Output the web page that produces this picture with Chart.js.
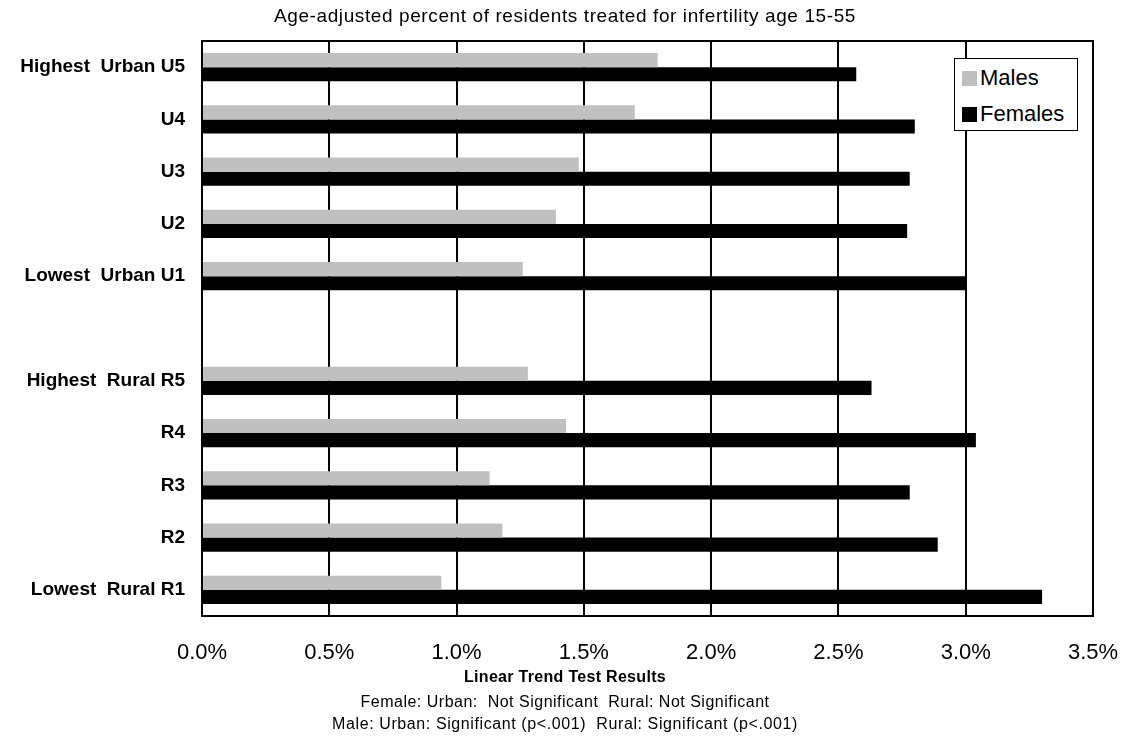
<!DOCTYPE html>
<html>
<head>
<meta charset="utf-8">
<script src="https://cdn.jsdelivr.net/npm/chart.js@4"></script>
<style>
  body { margin: 0; background: #fff; font-family: "Liberation Sans", Arial, sans-serif; }
  #wrap { position: relative; width: 1125px; height: 745px; }
  .txt { position: absolute; left: 0; width: 1130px; text-align: center; color: #000; }
  #title { top: 5px; font-size: 19px; letter-spacing: 0.6px; }
  #foot1 { top: 668px; font-size: 16px; font-weight: bold; letter-spacing: 0.3px; }
  #foot2 { top: 693px; font-size: 16px; letter-spacing: 0.5px; }
  #foot3 { top: 715px; font-size: 16px; letter-spacing: 0.6px; }
  #legend { position: absolute; left: 954px; top: 58px; width: 122px; height: 71px; border: 1px solid #000; background: #fff; }
  .item { position: absolute; left: 7px; font-size: 22px; line-height: 24px; }
  .box { display: inline-block; width: 15px; height: 15px; margin-right: 3px; vertical-align: -1px; }
</style>
</head>
<body>
<div id="wrap">
  <canvas id="myChart" width="1125" height="745"></canvas>
  <div class="txt" id="title">Age-adjusted percent of residents treated for infertility age 15-55</div>
  <div class="txt" id="foot1">Linear Trend Test Results</div>
  <div class="txt" id="foot2">Female: Urban:&nbsp; Not Significant&nbsp; Rural: Not Significant</div>
  <div class="txt" id="foot3">Male: Urban: Significant (p&lt;.001)&nbsp; Rural: Significant (p&lt;.001)</div>
  <div id="legend"></div>
</div>
<script>
// categories top to bottom, blank row separates urban and rural
let areaLabels = ['Highest  Urban U5', 'U4', 'U3', 'U2', 'Lowest  Urban U1', '',
                  'Highest  Rural R5', 'R4', 'R3', 'R2', 'Lowest  Rural R1'];
let malesPct   = [1.79, 1.70, 1.48, 1.39, 1.26, null, 1.28, 1.43, 1.13, 1.18, 0.94];
let femalesPct = [2.57, 2.80, 2.78, 2.77, 3.00, null, 2.63, 3.04, 2.78, 2.89, 3.30];
let xTicks = [0, 0.5, 1.0, 1.5, 2.0, 2.5, 3.0, 3.5];

// frame round the plot area (top edge is not drawn by the axes)
const frameBox = {
  id: 'frameBox',
  afterDraw(chart) {
    let a = chart.chartArea;
    let ctx = chart.ctx;
    ctx.save();
    ctx.strokeStyle = '#000';
    ctx.lineWidth = 2;
    ctx.strokeRect(a.left, a.top, a.right - a.left, a.bottom - a.top);
    ctx.restore();
  }
};

const ctx = document.getElementById('myChart').getContext('2d');
let mychart = new Chart(ctx, {
  type: 'bar',
  data: {
    labels: areaLabels,
    datasets: [
      { label: 'Males', data: malesPct, backgroundColor: '#c0c0c0', borderWidth: 0 },
      { label: 'Females', data: femalesPct, backgroundColor: '#000000', borderWidth: 0 }
    ]
  },
  options: {
    responsive: false,
    animation: false,
    indexAxis: 'y',
    layout: { padding: { top: 41, right: 32, left: 0, bottom: 0 } },
    datasets: { bar: { categoryPercentage: 0.54, barPercentage: 1.0 } },
    plugins: {
      legend: { display: false },
      tooltip: { enabled: false }
    },
    scales: {
      x: {
        min: 0,
        max: 3.5,
        afterBuildTicks: (scale) => { scale.ticks = xTicks.map(v => ({ value: v })); },
        afterFit: (scale) => {
          scale.height = 129;
          scale.paddingLeft = 0;
          scale.paddingRight = 0;
        },
        grid: { color: '#000', lineWidth: 2, drawTicks: false },
        border: { display: true, color: '#000', width: 2 },
        ticks: {
          padding: 24,
          color: '#000',
          font: { family: 'Liberation Sans', size: 22 },
          callback: (v) => Number(v).toFixed(1) + '%'
        }
      },
      y: {
        afterFit: (scale) => { scale.width = 202; },
        grid: { display: false, drawTicks: false },
        border: { display: true, color: '#000', width: 2 },
        ticks: {
          padding: 17,
          color: '#000',
          font: { family: 'Liberation Sans', size: 19, weight: 'bold' }
        }
      }
    }
  },
  plugins: [frameBox]
});

// legend inside the plot, built from the datasets
let legend = document.getElementById('legend');
mychart.data.datasets.forEach((ds, i) => {
  let item = document.createElement('div');
  item.className = 'item';
  item.style.top = (7 + i * 36) + 'px';
  let box = document.createElement('span');
  box.className = 'box';
  box.style.background = ds.backgroundColor;
  item.appendChild(box);
  item.appendChild(document.createTextNode(ds.label));
  legend.appendChild(item);
});
</script>
</body>
</html>
